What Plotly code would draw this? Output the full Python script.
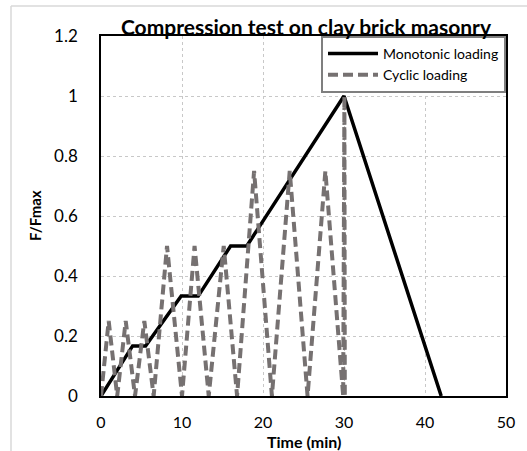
import plotly.graph_objects as go

# Monotonic loading
mono_t = [0, 3.9, 5.5, 9.9, 12.0, 16.0, 18.0, 30.0, 42.0]
mono_f = [0, 0.167, 0.167, 0.333, 0.333, 0.5, 0.5, 1.0, 0]

# Cyclic loading
cyc_t = [0, 0.95, 2.0, 3.05, 4.2, 5.35, 6.5, 8.15, 10.0, 11.55, 13.3, 15.15, 16.8,
         18.9, 21.1, 23.3, 25.5, 27.7, 29.9, 30.05, 30.1]
cyc_f = [0, 0.25, 0, 0.25, 0, 0.25, 0, 0.5, 0, 0.5, 0, 0.5, 0,
         0.75, 0, 0.75, 0, 0.75, 0, 1.0, 0]

x_ticks = [0, 10, 20, 30, 40, 50]
y_ticks = [0, 0.2, 0.4, 0.6, 0.8, 1.0, 1.2]
y_tick_text = ["0", "0.2", "0.4", "0.6", "0.8", "1", "1.2"]

FONT = "Lato"

fig = go.Figure()
fig.add_trace(go.Scatter(x=mono_t, y=mono_f, mode="lines", name="Monotonic loading",
                         line=dict(color="#000000", width=3.5)))
fig.add_trace(go.Scatter(x=cyc_t, y=cyc_f, mode="lines", name="Cyclic loading",
                         line=dict(color="#767171", width=4, dash="10px,5px")))

W, H = 527, 451
L, R, T, B = 101, 21, 36, 55
pw, ph = W - L - R, H - T - B

def px_x(p):
    return (p - L) / pw

def px_y(p):
    return (H - B - p) / ph

fig.update_layout(
    width=W, height=H,
    margin=dict(l=L, r=R, t=T, b=B, autoexpand=False),
    paper_bgcolor="white", plot_bgcolor="white",
    font=dict(family=FONT, color="#000000"),
    showlegend=True,
    legend=dict(x=1, y=1, xanchor="right", yanchor="top",
                bgcolor="white", bordercolor="#7f7f7f", borderwidth=2,
                font=dict(size=14, family=FONT), itemwidth=50,
                tracegroupgap=0),
    xaxis=dict(range=[0, 50], tickvals=x_ticks, showgrid=True, automargin=False,
               gridcolor="#c8c8c8", griddash="dot", gridwidth=1,
               showline=True, linecolor="#000000", linewidth=1.5, mirror=True,
               ticks="outside", ticklen=11, tickcolor="rgba(0,0,0,0)",
               tickfont=dict(size=16), zeroline=False),
    yaxis=dict(range=[0, 1.2], tickvals=y_ticks, ticktext=y_tick_text, showgrid=True,
               automargin=False,
               gridcolor="#c8c8c8", griddash="dot", gridwidth=1,
               showline=True, linecolor="#000000", linewidth=1.5, mirror=True,
               ticks="outside", ticklen=18, tickcolor="rgba(0,0,0,0)",
               tickfont=dict(size=17), zeroline=False),
    title=dict(text="<b>Compression test on clay brick masonry</b>",
               x=px_x(306), xref="paper", xanchor="center",
               y=1 - 28 / H, yref="container", yanchor="middle",
               font=dict(size=21, family=FONT)),
    annotations=[
        dict(text="<b>Time (min)</b>", xref="paper", yref="paper",
             x=0.5, y=px_y(441), xanchor="center", yanchor="middle",
             showarrow=False, font=dict(size=16, family=FONT)),
        dict(text="<b>F/Fmax</b>", xref="paper", yref="paper",
             x=px_x(35), y=0.5, xanchor="center", yanchor="middle", textangle=-90,
             showarrow=False, font=dict(size=15, family=FONT)),
    ],
    shapes=[
        dict(type="line", xref="paper", yref="paper", x0=px_x(11), x1=px_x(527),
             y0=px_y(6), y1=px_y(6), line=dict(color="#d9d9d9", width=1.5)),
        dict(type="line", xref="paper", yref="paper", x0=px_x(11), x1=px_x(11),
             y0=px_y(6), y1=px_y(451), line=dict(color="#d9d9d9", width=1.5)),
    ],
)

fig.write_html("out.html", config={"displayModeBar": False},
               post_script="document.body.style.margin='0';")
